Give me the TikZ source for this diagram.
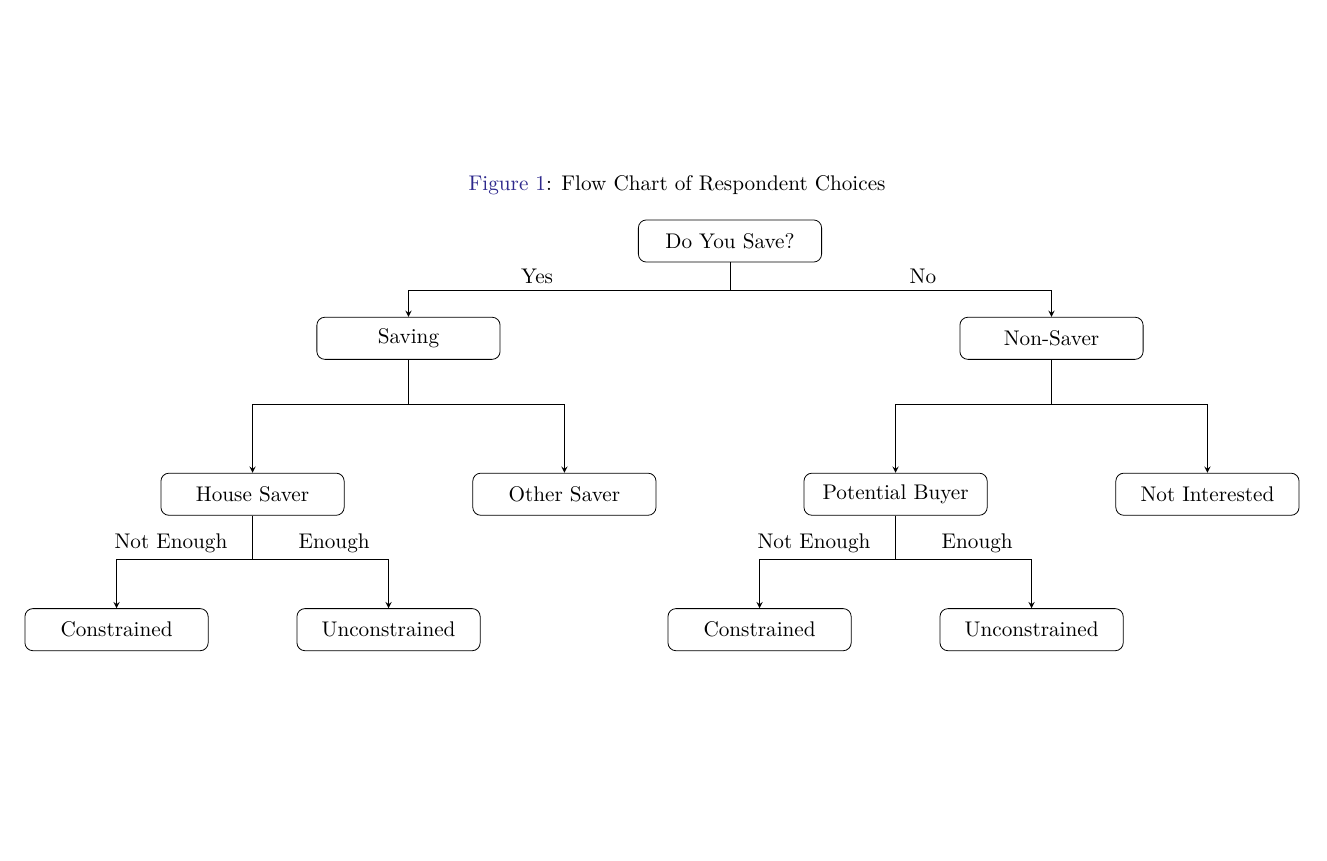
\documentclass[tikz,border=0pt]{standalone}
\usepackage{tikz}
\usetikzlibrary{positioning}
\definecolor{figlink}{RGB}{45,40,140}

\begin{document}
\begin{tikzpicture}[%
    >=stealth,
    on grid,
    font=\fontsize{10.6}{12.7}\selectfont,
    choice/.style={draw, rounded corners, minimum width=3.22cm, minimum height=0.74cm},
    lbl/.style={pos=0.3, above}
  ]
  \useasboundingbox (-365pt,120.5pt) rectangle (298.5pt,-310pt);
  \node[choice] at (0,0) (save) {Do You Save?};
  \node at (-0.93,0.98) (caption) {\textcolor{figlink}{Figure 1}: Flow Chart of Respondent Choices};

  \node[choice, below left = 1.71 and 5.65 of save] (saving) {Saving};
  \node[choice, below right = 1.71 and 5.65 of save] (nonsaver) {Non-Saver};

  \node[choice, below left = 2.74 and 2.74 of saving] (house) {House Saver};
  \node[choice, below right = 2.74 and 2.74 of saving] (other) {Other Saver};
  \node[choice, below left = 2.74 and 2.74 of nonsaver] (buyer) {Potential Buyer};
  \node[choice, below right = 2.74 and 2.74 of nonsaver] (notint) {Not Interested};

  \node[choice, below left = 2.38 and 2.39 of house] (con_1) {Constrained};
  \node[choice, below right = 2.38 and 2.39 of house] (uncon_1) {Unconstrained};
  \node[choice, below left = 2.38 and 2.39 of buyer] (con_2) {Constrained};
  \node[choice, below right = 2.38 and 2.39 of buyer] (uncon_2) {Unconstrained};

  \draw[->] (save.south) -- ++(0,-0.49) -| node[lbl] {Yes} (saving.north);
  \draw[->] (save.south) -- ++(0,-0.49) -| node[lbl] {No} (nonsaver.north);

  \draw[->] (saving.south) -- ++(0,-0.79) -| (house.north);
  \draw[->] (saving.south) -- ++(0,-0.79) -| (other.north);
  \draw[->] (nonsaver.south) -- ++(0,-0.79) -| (buyer.north);
  \draw[->] (nonsaver.south) -- ++(0,-0.79) -| (notint.north);

  \draw[->] (house.south) -- ++(0,-0.77) -| node[lbl] {Not Enough} (con_1.north);
  \draw[->] (house.south) -- ++(0,-0.77) -| node[lbl] {Enough} (uncon_1.north);
  \draw[->] (buyer.south) -- ++(0,-0.77) -| node[lbl] {Not Enough} (con_2.north);
  \draw[->] (buyer.south) -- ++(0,-0.77) -| node[lbl] {Enough} (uncon_2.north);
\end{tikzpicture}
\end{document}
